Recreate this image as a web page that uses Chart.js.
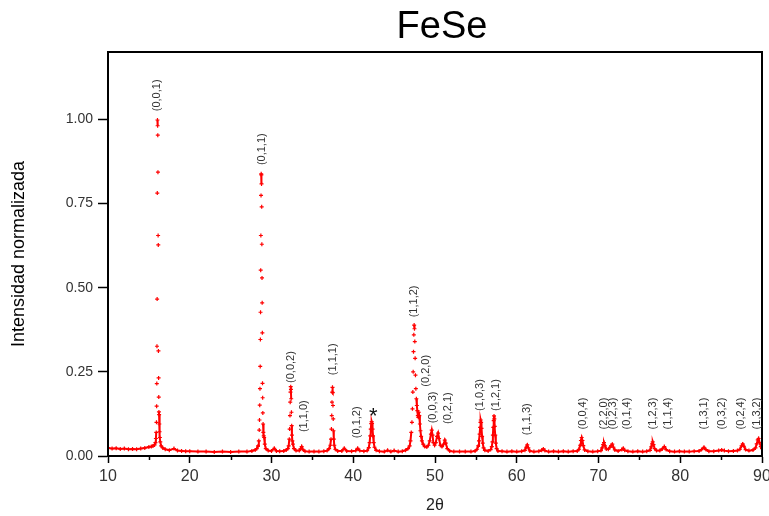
<!DOCTYPE html>
<html>
<head>
<meta charset="utf-8">
<title>FeSe</title>
<script src="https://cdn.jsdelivr.net/npm/chart.js@4.4.1/dist/chart.umd.min.js"></script>
<style>
    body { margin: 0; background: #fff; }
    #xrdChart { display: block; }
</style>
</head>
<body>
<canvas id="xrdChart" width="769" height="516"></canvas>
<script>
// diffraction scan, 2theta (deg) and normalized intensity
const twoTheta = [
    10.0, 10.5, 11.0, 11.5, 12.0, 12.5, 13.0, 13.5, 14.0, 14.5, 15.0, 15.3, 15.5, 15.7,
    15.80, 15.86, 15.90, 15.93, 15.95, 15.97, 15.99, 16.01, 16.03, 16.05, 16.07, 16.09, 16.11, 16.13,
    16.15, 16.17, 16.19, 16.21, 16.23, 16.25, 16.28, 16.31, 16.35, 16.40, 16.50, 16.70, 17.0,
    17.5, 18.07, 18.5, 19.0, 19.5, 20.0, 21.0, 22.0, 23.0, 24.0, 25.0, 26.0, 27.0, 27.6, 28.0, 28.2, 28.35, 28.45,
    28.50, 28.53, 28.56, 28.59, 28.62, 28.64, 28.66, 28.68, 28.70, 28.72, 28.74, 28.76, 28.78, 28.80,
    28.82, 28.84, 28.86, 28.88, 28.90, 28.92, 28.94, 28.97, 29.00, 29.05, 29.10, 29.18, 29.30, 29.6,
    30.0, 30.34, 30.6, 31.0, 31.5, 31.8, 32.0, 32.1, 32.18, 32.22, 32.26, 32.29, 32.32, 32.35, 32.38,
    32.41, 32.44, 32.47, 32.50, 32.55, 32.62, 32.75, 33.0, 33.4, 33.55, 33.69, 33.82, 34.1, 34.6,
    35.2, 35.8, 36.4, 36.8, 37.05, 37.2, 37.28, 37.33, 37.37, 37.40, 37.43, 37.46, 37.49, 37.52,
    37.55, 37.58, 37.62, 37.68, 37.8, 38.1, 38.6, 38.9, 39.2, 39.8, 40.3, 40.54, 40.8, 41.3, 41.7,
    41.9, 42.0, 42.08, 42.14, 42.20, 42.25, 42.30, 42.36, 42.42, 42.50, 42.6, 42.8, 43.2, 43.8,
    44.2, 44.6, 45.0, 45.5, 46.0, 46.4, 46.7, 46.9, 47.0, 47.1, 47.18, 47.24, 47.29, 47.33, 47.37,
    47.41, 47.45, 47.49, 47.53, 47.57, 47.61, 47.66, 47.72, 47.78, 47.84, 47.90, 47.96, 48.02, 48.08,
    48.15, 48.22, 48.30, 48.40, 48.55, 48.75, 49.0, 49.2, 49.35, 49.5, 49.6, 49.7, 49.8, 49.95,
    50.1, 50.25, 50.38, 50.5, 50.65, 50.85, 51.05, 51.2, 51.32, 51.5, 51.8, 52.3, 53.0, 53.7, 54.4,
    54.9, 55.15, 55.28, 55.38, 55.46, 55.52, 55.56, 55.60, 55.64, 55.69, 55.76, 55.84, 55.94, 56.1,
    56.5, 56.8, 56.95, 57.03, 57.08, 57.13, 57.18, 57.22, 57.26, 57.31, 57.37, 57.44, 57.54, 57.7,
    58.2, 58.8, 59.4, 60.0, 60.6, 61.0, 61.15, 61.29, 61.42, 61.6, 62.1, 62.7, 63.05, 63.25, 63.45,
    63.9, 64.5, 65.1, 65.7, 66.3, 66.9, 67.4, 67.62, 67.75, 67.85, 67.94, 68.04, 68.14, 68.3, 68.7,
    69.3, 69.9, 70.3, 70.45, 70.57, 70.67, 70.8, 70.95, 71.2, 71.4, 71.55, 71.69, 71.83, 72.0, 72.4,
    72.85, 73.03, 73.2, 73.6, 74.2, 74.8, 75.4, 75.9, 76.3, 76.45, 76.55, 76.63, 76.73, 76.86, 77.1,
    77.5, 77.8, 78.05, 78.28, 78.7, 79.3, 79.9, 80.5, 81.1, 81.7, 82.3, 82.6, 82.9, 83.15, 83.5,
    84.1, 84.7, 85.07, 85.4, 85.9, 86.5, 87.0, 87.3, 87.5, 87.64, 87.8, 88.0, 88.4, 88.9, 89.2,
    89.35, 89.48, 89.58, 89.7, 89.85, 90.0
];
const intensity = [
    0.024, 0.022, 0.023, 0.021, 0.022, 0.020, 0.021, 0.020, 0.022, 0.024, 0.027, 0.028, 0.030, 0.033,
    0.040, 0.052, 0.070, 0.100, 0.148, 0.215, 0.326, 0.466, 0.781, 0.998, 0.981, 0.953, 0.843, 0.655,
    0.627, 0.312, 0.232, 0.175, 0.131, 0.123, 0.095, 0.072, 0.055, 0.042, 0.030, 0.024, 0.020,
    0.017, 0.022, 0.016, 0.015, 0.014, 0.014, 0.013, 0.013, 0.012, 0.013, 0.012, 0.013, 0.013, 0.015, 0.018, 0.022, 0.030, 0.045,
    0.077, 0.107, 0.151, 0.200, 0.266, 0.346, 0.427, 0.552, 0.655, 0.774, 0.838, 0.835, 0.808, 0.740,
    0.629, 0.529, 0.455, 0.366, 0.216, 0.173, 0.128, 0.095, 0.070, 0.060, 0.055, 0.035, 0.022, 0.016,
    0.015, 0.023, 0.015, 0.014, 0.015, 0.018, 0.022, 0.030, 0.050, 0.080, 0.120, 0.160, 0.190, 0.206, 0.198,
    0.170, 0.130, 0.090, 0.062, 0.045, 0.035, 0.022, 0.016, 0.016, 0.021, 0.028, 0.020, 0.014, 0.013,
    0.013, 0.013, 0.014, 0.016, 0.022, 0.032, 0.050, 0.080, 0.120, 0.160, 0.190, 0.204, 0.188, 0.150,
    0.110, 0.075, 0.050, 0.032, 0.020, 0.015, 0.015, 0.023, 0.015, 0.014, 0.016, 0.023, 0.016, 0.014, 0.016,
    0.025, 0.040, 0.060, 0.080, 0.096, 0.102, 0.097, 0.080, 0.060, 0.040, 0.026, 0.017, 0.014, 0.013,
    0.017, 0.013, 0.016, 0.013, 0.014, 0.017, 0.022, 0.030, 0.045, 0.070, 0.100, 0.140, 0.190, 0.250, 0.310,
    0.360, 0.389, 0.378, 0.340, 0.290, 0.240, 0.200, 0.170, 0.150, 0.135, 0.120, 0.115, 0.130, 0.120,
    0.095, 0.075, 0.058, 0.045, 0.035, 0.028, 0.027, 0.032, 0.045, 0.065, 0.077, 0.062, 0.040, 0.032,
    0.040, 0.058, 0.068, 0.052, 0.032, 0.028, 0.035, 0.047, 0.038, 0.022, 0.015, 0.013, 0.013, 0.013, 0.013,
    0.015, 0.020, 0.030, 0.045, 0.065, 0.085, 0.100, 0.107, 0.100, 0.082, 0.058, 0.038, 0.024, 0.017,
    0.015, 0.019, 0.028, 0.042, 0.062, 0.085, 0.105, 0.119, 0.110, 0.088, 0.062, 0.038, 0.022, 0.015,
    0.014, 0.013, 0.014, 0.013, 0.014, 0.017, 0.026, 0.033, 0.024, 0.015, 0.013, 0.014, 0.017, 0.021, 0.016,
    0.013, 0.014, 0.013, 0.014, 0.013, 0.014, 0.015, 0.020, 0.032, 0.046, 0.055, 0.046, 0.031, 0.018, 0.014,
    0.013, 0.014, 0.016, 0.024, 0.034, 0.040, 0.030, 0.021, 0.020, 0.026, 0.031, 0.035, 0.026, 0.018, 0.015,
    0.019, 0.023, 0.017, 0.014, 0.013, 0.014, 0.013, 0.014, 0.017, 0.027, 0.036, 0.042, 0.034, 0.022, 0.016,
    0.016, 0.021, 0.028, 0.019, 0.014, 0.013, 0.014, 0.013, 0.013, 0.014, 0.015, 0.019, 0.026, 0.019, 0.014,
    0.014, 0.016, 0.018, 0.016, 0.014, 0.015, 0.016, 0.020, 0.030, 0.036, 0.029, 0.019, 0.016, 0.018, 0.024,
    0.036, 0.048, 0.052, 0.040, 0.028, 0.022
];

// Miller index labels: text, 2theta of the label, intensity at the label's lower end
const hklText = ['(0,0,1)', '(0,1,1)', '(0,0,2)', '(1,1,0)', '(1,1,1)', '(0,1,2)', '(1,1,2)', '(0,2,0)',
    '(0,0,3)', '(0,2,1)', '(1,0,3)', '(1,2,1)', '(1,1,3)', '(0,0,4)', '(2,2,0)', '(0,2,3)', '(0,1,4)',
    '(1,2,3)', '(1,1,4)', '(1,3,1)', '(0,3,2)', '(0,2,4)', '(1,3,2)'];
const hklTheta = [15.99, 28.84, 32.39, 33.98, 37.52, 40.42, 47.47, 48.90, 49.72, 51.63, 55.50, 57.46,
    61.20, 68.07, 70.71, 71.74, 73.45, 76.63, 78.54, 82.94, 85.10, 87.43, 89.39];
const hklBase = [1.024, 0.864, 0.217, 0.071, 0.240, 0.053, 0.412, 0.206, 0.097, 0.095, 0.134, 0.134,
    0.062, 0.079, 0.079, 0.079, 0.079, 0.079, 0.079, 0.079, 0.079, 0.079, 0.079];

// impurity peak marker
const markTheta = 42.45;
const markBase = 0.097;

const xTicks = [10, 20, 30, 40, 50, 60, 70, 80, 90];
const xMinorTicks = [15, 25, 35, 45, 55, 65, 75, 85];
const yTicks = [0, 0.25, 0.5, 0.75, 1.0];

const RED = '#ff0000';
const FONT = '"Liberation Sans", Arial, sans-serif';

const points = twoTheta.map((t, i) => ({ x: t, y: intensity[i] }));

// frame, minor ticks, title and peak labels
const decorations = {
    id: 'decorations',
    afterDraw(chart) {
        const { ctx, chartArea, scales } = chart;
        const { x, y } = scales;
        ctx.save();

        ctx.strokeStyle = '#000';
        ctx.lineWidth = 2;
        ctx.strokeRect(chartArea.left, chartArea.top, chartArea.right - chartArea.left, chartArea.bottom - chartArea.top);

        ctx.lineWidth = 1.5;
        ctx.beginPath();
        xMinorTicks.forEach(v => {
            const px = Math.round(x.getPixelForValue(v)) + 0.5;
            ctx.moveTo(px, chartArea.bottom);
            ctx.lineTo(px, chartArea.bottom + 4);
        });
        ctx.stroke();

        ctx.fillStyle = '#000';
        ctx.font = '38px ' + FONT;
        ctx.textAlign = 'center';
        ctx.textBaseline = 'alphabetic';
        ctx.fillText('FeSe', (chartArea.left + chartArea.right) / 2 + 7, 38);

        ctx.fillStyle = '#333';
        ctx.font = '11px ' + FONT;
        ctx.textAlign = 'left';
        ctx.textBaseline = 'middle';
        hklText.forEach((label, i) => {
            ctx.save();
            ctx.translate(x.getPixelForValue(hklTheta[i]), y.getPixelForValue(hklBase[i]));
            ctx.rotate(-Math.PI / 2);
            ctx.fillText(label, 0, 0);
            ctx.restore();
        });

        ctx.fillStyle = '#111';
        ctx.font = '22px ' + FONT;
        ctx.textAlign = 'center';
        ctx.textBaseline = 'alphabetic';
        ctx.fillText('*', x.getPixelForValue(markTheta), y.getPixelForValue(markBase));

        ctx.restore();
    }
};

new Chart(document.getElementById('xrdChart'), {
    type: 'line',
    data: {
        datasets: [{
            data: points,
            borderColor: RED,
            backgroundColor: RED,
            borderWidth: 2,
            pointStyle: 'cross',
            pointRadius: 2,
            pointBorderWidth: 1.2,
            pointBorderColor: RED,
            tension: 0,
            // steep flanks show only the sample marks
            segment: {
                borderColor: c => Math.abs(c.p1.parsed.y - c.p0.parsed.y) > 0.028 ? 'rgba(0,0,0,0)' : RED
            }
        }]
    },
    options: {
        responsive: false,
        animation: false,
        layout: { padding: { top: 52, right: 7, left: 0, bottom: 0 } },
        plugins: {
            legend: { display: false },
            tooltip: { enabled: false }
        },
        scales: {
            x: {
                type: 'linear',
                min: 10,
                max: 90,
                afterBuildTicks: scale => { scale.ticks = xTicks.map(v => ({ value: v })); },
                afterFit: scale => {
                    scale.height = 60;
                    scale.paddingLeft = 0;
                    scale.paddingRight = 0;
                },
                ticks: {
                    color: '#333',
                    font: { family: FONT, size: 16 },
                    padding: 4,
                    maxRotation: 0
                },
                grid: {
                    drawOnChartArea: false,
                    tickLength: 7,
                    tickColor: '#000',
                    tickWidth: 1.5
                },
                border: { color: '#000', width: 2 },
                title: {
                    display: true,
                    text: '2θ',
                    color: '#222',
                    font: { family: FONT, size: 16 },
                    padding: { top: 0, bottom: 1 }
                }
            },
            y: {
                min: 0,
                max: 1.2,
                afterBuildTicks: scale => { scale.ticks = yTicks.map(v => ({ value: v })); },
                afterFit: scale => { scale.width = 108; },
                ticks: {
                    color: '#333',
                    font: { family: FONT, size: 14 },
                    padding: 5,
                    callback: v => v.toFixed(2)
                },
                grid: {
                    drawOnChartArea: false,
                    tickLength: 10,
                    tickColor: '#000',
                    tickWidth: 1.5
                },
                border: { color: '#000', width: 2 },
                title: {
                    display: true,
                    text: 'Intensidad normalizada',
                    color: '#000',
                    font: { family: FONT, size: 18 },
                    padding: { top: 8, bottom: 0 }
                }
            }
        }
    },
    plugins: [decorations]
});
</script>
</body>
</html>
